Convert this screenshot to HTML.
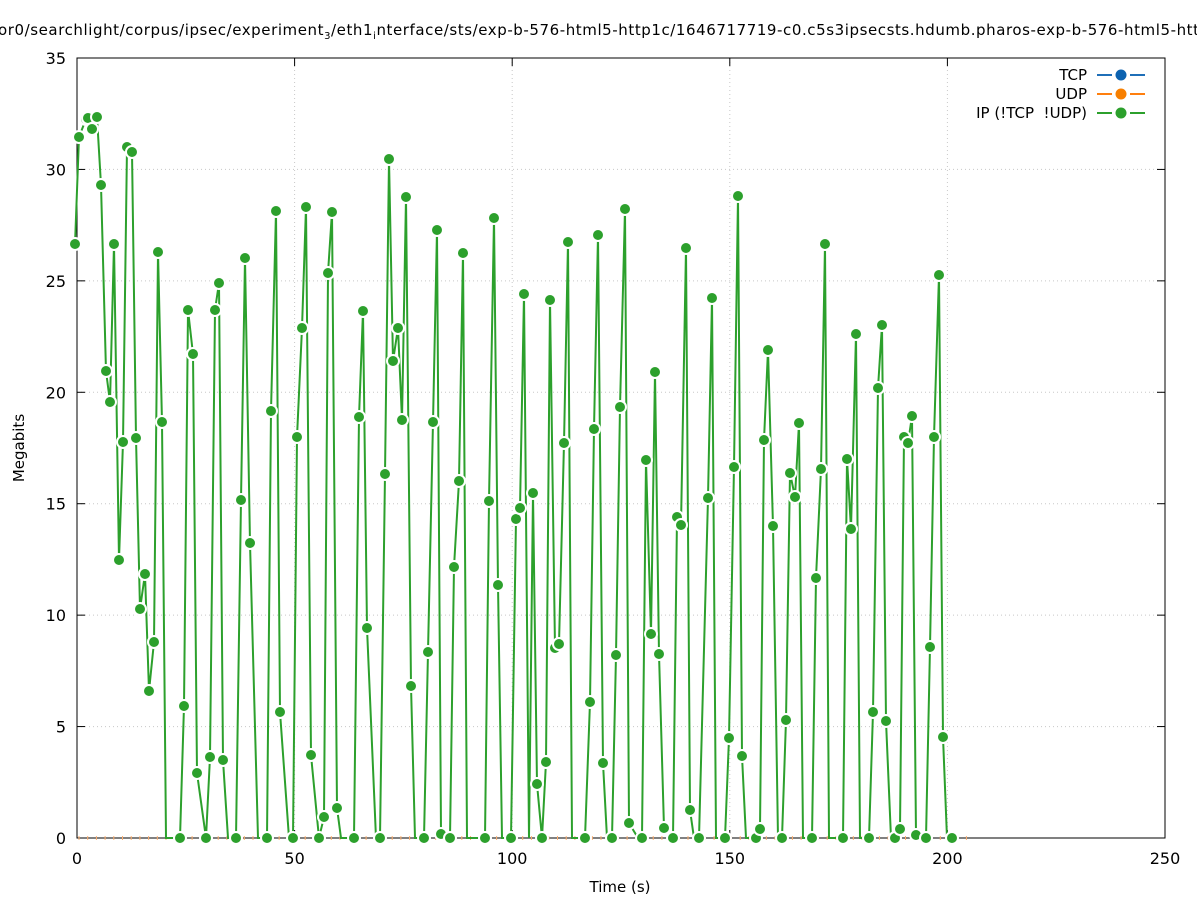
<!DOCTYPE html>
<html><head><meta charset="utf-8"><style>
html,body{margin:0;padding:0;background:#fff;}
svg{display:block;font-family:"DejaVu Sans","Liberation Sans",sans-serif;}
</style></head><body>
<svg id="s" width="1197" height="900" xmlns="http://www.w3.org/2000/svg">
<rect width="1197" height="900" fill="#fff"/>
<g id="grid" stroke="#c8c8c8" stroke-width="1" stroke-dasharray="1,3"></g>
<g id="ticks" stroke="#000" stroke-width="1"></g>
<rect x="77" y="58" width="1088" height="780" fill="none" stroke="#000" stroke-width="1"/>
<g id="labels" font-size="16" fill="#000"></g>
<text x="-2" y="35" font-size="15" textLength="1201" lengthAdjust="spacing">or0/searchlight/corpus/ipsec/experiment<tspan font-size="10" dy="4">3</tspan><tspan dy="-4">/eth1</tspan><tspan font-size="10" dy="4">i</tspan><tspan dy="-4">nterface/sts/exp-b-576-html5-http1c/1646717719-c0.c5s3ipsecsts.hdumb.pharos-exp-b-576-html5-htt</tspan></text>
<text x="620" y="892" font-size="15" text-anchor="middle">Time (s)</text>
<text transform="translate(24,448) rotate(-90)" font-size="15" text-anchor="middle">Megabits</text>
<g font-size="15" text-anchor="end">
<text x="1087" y="80">TCP</text>
<text x="1087" y="99">UDP</text>
<text x="1087" y="118">IP (!TCP &#160;!UDP)</text>
</g>
<g stroke-width="2">
<path d="M1097 75h15M1130 75h15" stroke="#1f6fb8"/><circle cx="1121" cy="75" r="5.5" fill="#0c62b0"/>
<path d="M1097 94h15M1130 94h15" stroke="#ff7f0e"/><circle cx="1121" cy="94" r="5.5" fill="#f77f00"/>
<path d="M1097 113h15M1130 113h15" stroke="#2ca02c"/><circle cx="1121" cy="113" r="5.5" fill="#2ca02c"/>
</g>
<g id="zero" stroke="#ffb070" stroke-width="1"></g>
<polyline id="pl" fill="none" stroke="#2ca02c" stroke-width="2"/>
<g id="mk"></g>
</svg>
<script>
var NS="http://www.w3.org/2000/svg";
function el(p,t,a){var e=document.createElementNS(NS,t);for(var k in a)e.setAttribute(k,a[k]);p.appendChild(e);return e;}
var g=document.getElementById('grid'),tk=document.getElementById('ticks'),lb=document.getElementById('labels');
for(var i=0;i<=5;i++){var x=77+i*217.6;
 if(i>0&&i<5)el(g,'line',{x1:x,y1:58,x2:x,y2:838});
 el(tk,'line',{x1:x,y1:838,x2:x,y2:830});el(tk,'line',{x1:x,y1:58,x2:x,y2:66});
 var t=el(lb,'text',{x:x,y:864,'text-anchor':'middle'});t.textContent=i*50;}
for(var j=0;j<=7;j++){var y=838-j*111.43;
 if(j>0&&j<7)el(g,'line',{x1:77,y1:y,x2:1165,y2:y});
 el(tk,'line',{x1:77,y1:y,x2:85,y2:y});el(tk,'line',{x1:1165,y1:y,x2:1157,y2:y});
 var t=el(lb,'text',{x:66,y:y+6,'text-anchor':'end'});t.textContent=j*5;}
var z=document.getElementById('zero');
for(var x=79;x<975;x+=8.7)el(z,'line',{x1:x,y1:836,x2:x,y2:840});
var d=[[75,244],[79,137],[86,119],[88,118],[92,129],[97,117],[101,185],[106,371],[110,402],[114,244],[119,560],[123,442],[127,147],[132,152],[136,438],[140,609],[145,574],[149,691],[154,642],[158,252],[162,422],[166,838,1],[180,838],[184,706],[188,310],[193,354],[197,773],[206,838],[210,757],[215,310],[219,283],[223,760],[228,838,1],[236,838],[241,500],[245,258],[250,543],[258,838,1],[267,838],[271,411],[276,211],[280,712],[289,838,1],[293,838],[297,437],[302,328],[306,207],[311,755],[319,838],[324,817],[328,273],[332,212],[337,808],[341,838,1],[354,838],[359,417],[363,311],[367,628],[376,838,1],[380,838],[385,474],[389,159],[393,361],[398,328],[402,420],[406,197],[411,686],[415,838,1],[424,838],[428,652],[433,422],[437,230],[441,834],[450,838],[454,567],[459,481],[463,253],[467,838,1],[485,838],[489,501],[494,218],[498,585],[502,838,1],[511,838],[516,519],[520,508],[524,294],[529,838,1],[533,493],[537,784],[542,838],[546,762],[550,300],[555,648],[559,644],[564,443],[568,242],[572,838,1],[585,838],[590,702],[594,429],[598,235],[603,763],[607,838,1],[612,838],[616,655],[620,407],[625,209],[629,823],[638,838,1],[642,838],[646,460],[651,634],[655,372],[659,654],[664,828],[673,838],[677,517],[681,525],[686,248],[690,810],[694,838,1],[699,838],[708,498],[712,298],[716,838,1],[725,838],[729,738],[734,467],[738,196],[742,756],[746,838,1],[756,838],[760,829],[764,440],[768,350],[773,526],[778,838,1],[782,838],[786,720],[790,473],[795,497],[799,423],[803,838,1],[812,838],[816,578],[821,469],[825,244],[829,838,1],[843,838],[847,459],[851,529],[856,334],[860,838,1],[869,838],[873,712],[878,388],[882,325],[886,721],[891,838,1],[895,838],[900,829],[904,437],[908,443],[912,416],[916,835],[921,838,1],[926,838],[930,647],[934,437],[939,275],[943,737],[947,838,1],[952,838]];
document.getElementById('pl').setAttribute('points',d.map(function(p){return p[0]+','+p[1];}).join(' '));
var mk=document.getElementById('mk');
d.forEach(function(p){if(!p[2])el(mk,'circle',{cx:p[0],cy:p[1],r:6,fill:'#2ca02c',stroke:'#fff','stroke-width':2});});
</script>
</body></html>
